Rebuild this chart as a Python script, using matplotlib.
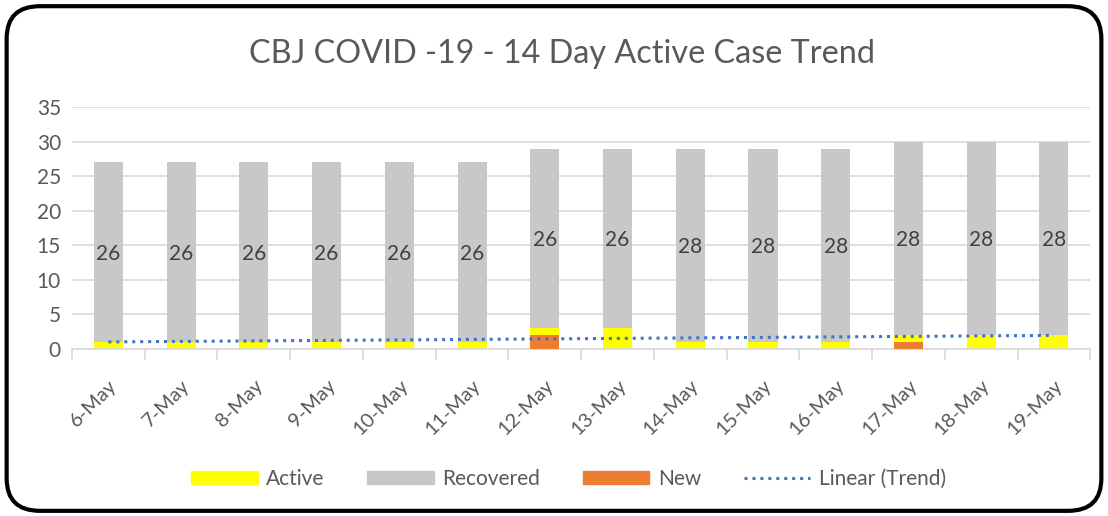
import numpy as np
import matplotlib
matplotlib.use("Agg")
import matplotlib.pyplot as plt
from matplotlib.patches import FancyBboxPatch, Patch
from matplotlib.lines import Line2D

plt.rcParams['font.family'] = ['Lato', 'DejaVu Sans']

dates = ["6-May", "7-May", "8-May", "9-May", "10-May", "11-May", "12-May",
         "13-May", "14-May", "15-May", "16-May", "17-May", "18-May", "19-May"]
active = [1, 1, 1, 1, 1, 1, 3, 3, 1, 1, 1, 2, 2, 2]
recovered = [26, 26, 26, 26, 26, 26, 26, 26, 28, 28, 28, 28, 28, 28]
new = [0, 0, 0, 0, 0, 0, 2, 0, 0, 0, 0, 1, 0, 0]

x = np.arange(len(dates))
coef = np.polyfit(x, active, 1)
trend = np.polyval(coef, x)

fig = plt.figure(figsize=(11.08, 5.16), dpi=100)
ax = fig.add_axes([0.065, 0.3236, 0.919, 0.469])

w = 0.4
ax.bar(x, active, w, color="#FFFF00", zorder=2)
ax.bar(x, recovered, w, bottom=active, color="#C8C8C8", zorder=2)
ax.bar(x, new, w, color="#ED7D31", zorder=3)
ax.plot(x, trend, linestyle=(0, (1, 1.6)), color="#4472C4", lw=2.2, zorder=4)

for xi, a, r in zip(x, active, recovered):
    ax.text(xi, a + r / 2 - 0.3, str(r), ha="center", va="center",
            fontsize=15, color="#404040", zorder=5)

ax.set_ylim(0, 35)
ax.set_xlim(-0.5, len(dates) - 0.5)
ax.set_yticks(range(0, 36, 5))
ax.yaxis.grid(True, color="#D9D9D9", lw=1.2, zorder=0)
ax.set_axisbelow(True)
for s in ["top", "right", "left"]:
    ax.spines[s].set_visible(False)
ax.spines["bottom"].set_color("#D9D9D9")
ax.spines["bottom"].set_linewidth(1.2)
ax.tick_params(axis="y", length=0, labelsize=15, labelcolor="#595959", pad=8)
ax.set_xticks(x)
ax.set_xticklabels(dates, rotation=45, ha="right", rotation_mode="anchor",
                   fontsize=14.5, color="#595959")
ax.tick_params(axis="x", which="major", length=0, pad=20)
ax.set_xticks(np.arange(-0.5, len(dates), 1), minor=True)
ax.tick_params(axis="x", which="minor", length=8, color="#D9D9D9", width=1.2)

fig.text(0.507, 0.895, "CBJ COVID -19 - 14 Day Active Case Trend", ha="center",
         va="center", fontsize=23.3, color="#595959")

handles = [Patch(color="#FFFF00"), Patch(color="#C8C8C8"), Patch(color="#ED7D31"),
           Line2D([], [], linestyle=(0, (1, 1.6)), color="#4472C4", lw=2.2)]
labels = ["Active", "Recovered", "New", "Linear (Trend)"]
fig.legend(handles, labels, loc="center", bbox_to_anchor=(0.513, 0.072), ncol=4,
           frameon=False, fontsize=15, handlelength=3.2, handleheight=0.6,
           handletextpad=0.4, columnspacing=2.05, labelcolor="#595959")

border = FancyBboxPatch((0.006, 0.01), 0.988, 0.978,
                        boxstyle="round,pad=0,rounding_size=0.03",
                        transform=fig.transFigure, fill=False,
                        edgecolor="black", lw=3, mutation_aspect=2.1)
fig.patches.append(border)

fig.savefig("out.png", dpi=100)
